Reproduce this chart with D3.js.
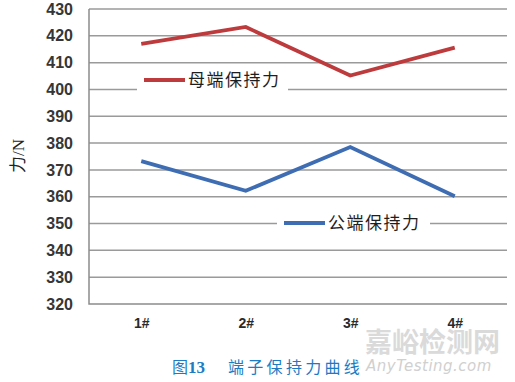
<!DOCTYPE html>
<html>
<head>
<meta charset="utf-8">
<script src="https://cdn.jsdelivr.net/npm/d3@7"></script>
<style>
  body { margin: 0; background: #fff; }
  svg { display: block; }
</style>
</head>
<body>
<div id="chart"></div>
<script>
// data
var categories = ['1#', '2#', '3#', '4#'];
var femaleForce = [417, 423.3, 405.2, 415.6];   // 母端保持力
var maleForce = [373.3, 362.2, 378.5, 360.2];   // 公端保持力
var yTicks = [320, 330, 340, 350, 360, 370, 380, 390, 400, 410, 420, 430];

var width = 515, height = 382;
var plotLeft = 89, plotRight = 507, plotTop = 9, plotBottom = 304;

var svg = d3.select('#chart')
            .append('svg')
            .attr('width', width)
            .attr('height', height);

var x = d3.scalePoint()
          .domain(categories)
          .range([plotLeft, plotRight])
          .padding(0.5);

var y = d3.scaleLinear()
          .domain([320, 430])
          .range([plotBottom, plotTop]);

// gridlines
svg.append('g')
   .selectAll('line')
   .data(yTicks.slice(1))
   .enter()
   .append('line')
   .attr('x1', plotLeft)
   .attr('x2', plotRight)
   .attr('y1', d => y(d))
   .attr('y2', d => y(d))
   .style('stroke', '#9a9a9a')
   .style('stroke-width', 1.5);

// axis frame (left + bottom)
svg.append('path')
   .attr('d', 'M' + plotLeft + ',' + plotTop + 'V' + plotBottom + 'H' + plotRight)
   .style('fill', 'none')
   .style('stroke', '#8c8c8c')
   .style('stroke-width', 1.5);

// y tick labels
var yAxis = svg.append('g')
   .attr('transform', 'translate(' + (plotLeft - 16) + ',0)')
   .call(d3.axisLeft(y).tickValues(yTicks).tickSize(0).tickPadding(0));
yAxis.select('.domain').remove();
yAxis.selectAll('text')
     .style('font-family', '"Liberation Sans", Arial, sans-serif')
     .style('font-weight', 'bold')
     .style('font-size', '16px')
     .style('fill', '#363636');

// x tick labels
var xAxis = svg.append('g')
   .attr('transform', 'translate(0,' + (plotBottom + 14) + ')')
   .call(d3.axisBottom(x).tickSize(0).tickPadding(0));
xAxis.select('.domain').remove();
xAxis.selectAll('text')
     .style('font-family', '"Liberation Sans", Arial, sans-serif')
     .style('font-weight', 'bold')
     .style('font-size', '14px')
     .style('fill', '#2a2a2a');

// y axis title
svg.append('text')
   .attr('transform', 'translate(24,156) rotate(-90)')
   .attr('text-anchor', 'middle')
   .style('font-family', '"Liberation Serif", "Noto Sans CJK SC", serif')
   .style('font-size', '17px')
   .style('fill', '#222')
   .text('力/N');

// lines
var line = d3.line()
             .x((d, i) => x(categories[i]))
             .y(d => y(d));

var series = [
    { name: '母端保持力', values: femaleForce, color: '#bd3b3d' },
    { name: '公端保持力', values: maleForce, color: '#3e6db3' }
];

series.forEach(s => {
    svg.append('path')
       .datum(s.values)
       .attr('d', line)
       .style('fill', 'none')
       .style('stroke', s.color)
       .style('stroke-width', 3.8)
       .style('stroke-linejoin', 'miter');
});

// legends sitting on the gridlines
var legends = [
    { s: series[0], x0: 137, x1: 288, cy: 80 },
    { s: series[1], x0: 277, x1: 430, cy: 223 }
];

legends.forEach(l => {
    var g = svg.append('g');
    g.append('rect')
     .attr('x', l.x0)
     .attr('y', l.cy - 12)
     .attr('width', l.x1 - l.x0)
     .attr('height', 24)
     .style('fill', '#fff');
    g.append('line')
     .attr('x1', l.x0 + 7)
     .attr('x2', l.x0 + 48)
     .attr('y1', l.cy)
     .attr('y2', l.cy)
     .style('stroke', l.s.color)
     .style('stroke-width', 3.8);
    g.append('text')
     .attr('x', l.x0 + 51)
     .attr('y', l.cy + 6)
     .style('font-family', '"Noto Sans CJK SC", sans-serif')
     .style('font-size', '17px')
     .style('letter-spacing', '1.5px')
     .style('fill', '#1e1e1e')
     .text(l.s.name);
});

// caption
var cap = svg.append('text')
   .attr('x', 172)
   .attr('y', 373)
   .style('fill', '#1b7bc3');
cap.append('tspan')
   .style('font-family', '"Noto Sans CJK SC", sans-serif')
   .style('font-size', '16px')
   .text('图');
cap.append('tspan')
   .style('font-family', '"Liberation Serif", serif')
   .style('font-weight', 'bold')
   .style('font-size', '17px')
   .text('13');
cap.append('tspan')
   .attr('x', 228)
   .style('font-family', '"Noto Sans CJK SC", sans-serif')
   .style('font-size', '16px')
   .style('letter-spacing', '3.3px')
   .text('端子保持力曲线');

// watermark
svg.append('text')
   .attr('x', 365)
   .attr('y', 352)
   .style('font-family', '"Noto Sans CJK SC", sans-serif')
   .style('font-size', '27px')
   .style('font-weight', 'bold')
   .style('fill', '#d4d4d4')
   .style('opacity', 0.85)
   .text('嘉峪检测网');

svg.append('text')
   .attr('x', 366)
   .attr('y', 371)
   .style('font-family', '"DejaVu Sans", sans-serif')
   .style('font-style', 'italic')
   .style('font-size', '15px')
   .style('letter-spacing', '0.5px')
   .style('fill', '#d0d0d0')
   .text('AnyTesting.com');
</script>
</body>
</html>
